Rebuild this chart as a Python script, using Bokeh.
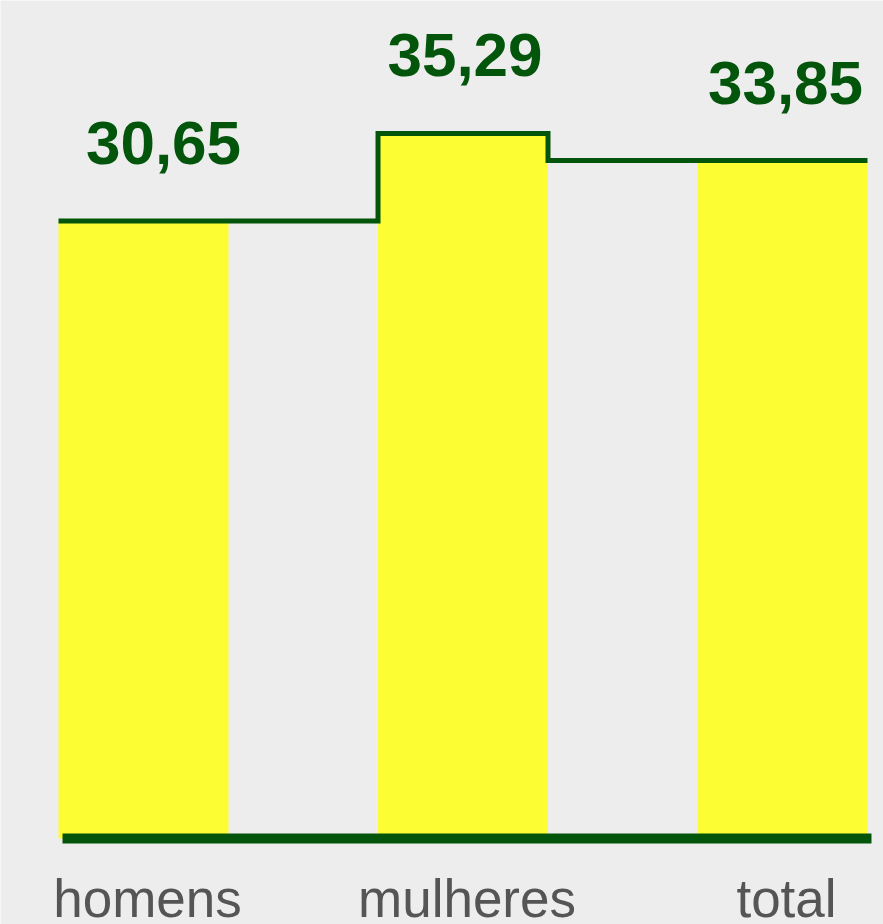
from bokeh.plotting import figure
from bokeh.models import Range1d, ColumnDataSource
from bokeh.core.properties import value
from bokeh.embed import file_html
from bokeh.resources import INLINE

# ---- data ----
categories = ["homens", "mulheres", "total"]
values = [30.65, 35.29, 33.85]
value_labels = ["30,65", "35,29", "33,85"]

# ---- styles ----
BG = "#ededed"
YELLOW = "#fdfd33"
GREEN = "#02550a"
GRAY = "#555555"

W, H = 883, 924
bar_w = 0.532
base = -2.094
label_dx = [20, 2, 3]

x_idx = list(range(len(categories)))

p = figure(width=W, height=H, output_backend="svg", toolbar_location=None,
           x_range=Range1d(-0.4476, 2.3161), y_range=Range1d(-6.654, 42.34),
           min_border=0, background_fill_color=BG, border_fill_color=BG,
           outline_line_color=None)
p.axis.visible = False
p.grid.visible = False

src = ColumnDataSource(dict(x=x_idx, top=values, cat=categories,
                            lab=value_labels, dx=label_dx))

p.vbar(x="x", top="top", bottom=base, width=bar_w, source=src,
       fill_color=YELLOW, line_color=None)

# step outline over bar tops
sx = [x_idx[0] - bar_w / 2, x_idx[1] - bar_w / 2, x_idx[1] + bar_w / 2, x_idx[2] + bar_w / 2]
sy = [values[0], values[1], values[2], values[2]]
p.step(sx, sy, mode="after", line_color=GREEN, line_width=5, line_join="miter")

# baseline
p.line([x_idx[0] - bar_w / 2 + 0.0125, x_idx[-1] + bar_w / 2 + 0.0125], [base, base],
       line_color=GREEN, line_width=10, line_cap="butt")

# value labels
p.text(x="x", y="top", text="lab", source=src, x_offset="dx", y_offset=-78,
       text_align="center", text_baseline="alphabetic",
       text_font=value("Liberation Sans"), text_font_style="bold",
       text_font_size="62px", text_color=GREEN)

# category labels
p.text(x="x", y=base, text="cat", source=src, x_offset=4, y_offset=60,
       text_align="center", text_baseline="alphabetic",
       text_font=value("Liberation Sans"), text_font_size="53px",
       text_color=GRAY)

open("out.html", "w").write(file_html(p, INLINE))
